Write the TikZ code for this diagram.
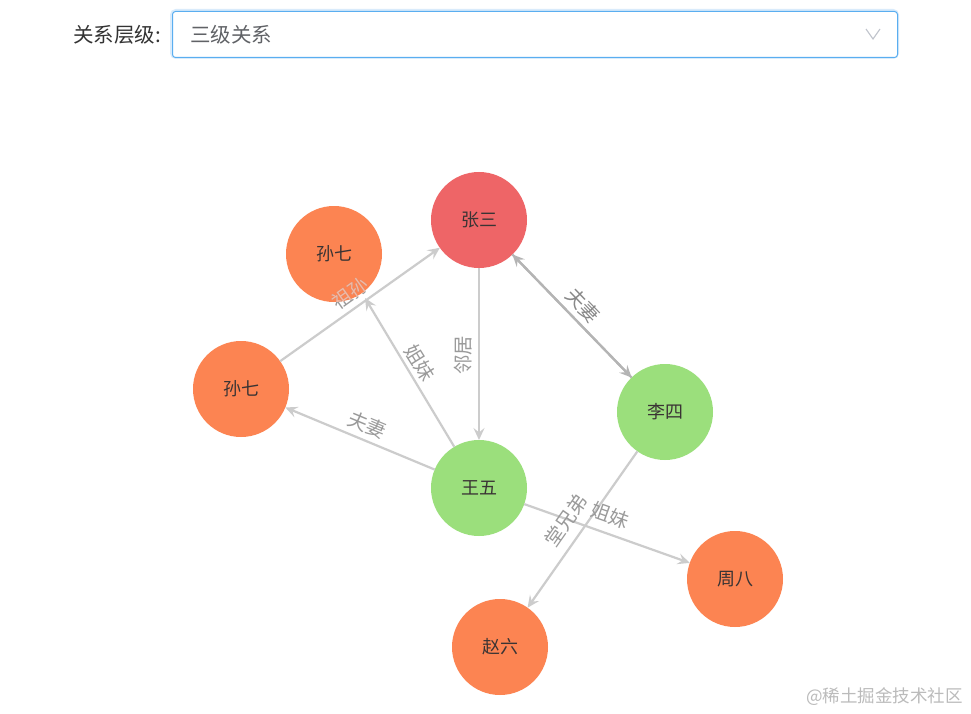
\documentclass[tikz,border=0pt]{standalone}
\usepackage{fontspec}
\setmainfont{Noto Sans CJK SC}
\usetikzlibrary{arrows.meta}
\definecolor{nred}{HTML}{EE6567}
\definecolor{norange}{HTML}{FC8452}
\definecolor{ngreen}{HTML}{9BDF7C}
\definecolor{edgec}{HTML}{CCCCCC}
\definecolor{edgedark}{HTML}{B4B4B4}
\definecolor{elabel}{HTML}{9A9A9A}
\definecolor{elabeldark}{HTML}{888888}
\definecolor{nlabel}{HTML}{3A3434}
\definecolor{boxblue}{HTML}{5AAEF0}
\definecolor{boxglow}{HTML}{D9EBFB}
\definecolor{ddtext}{HTML}{606266}
\definecolor{hdtext}{HTML}{333333}
\definecolor{chev}{HTML}{C0C4CC}
\definecolor{wm}{HTML}{BBBBBB}
\definecolor{zusun}{HTML}{F6B8A2}
\begin{document}
\begin{tikzpicture}[x=1pt,y=-1pt,
  person/.style={circle,minimum size=96pt,inner sep=0pt,outer sep=0pt,text=nlabel,font=\fontsize{18}{18}\selectfont},
  redp/.style={person,fill=nred},
  orp/.style={person,fill=norange},
  grp/.style={person,fill=ngreen},
  rel/.style={draw=edgec,line width=2.2pt,-{Stealth[length=12pt,width=11pt,inset=4.5pt]}},
  elab/.style={text=elabel,font=\fontsize{19.5}{19.5}\selectfont,inner sep=0pt},
  hdfont/.style={font=\fontsize{20.5}{21}\selectfont,inner sep=0pt}
]
\useasboundingbox (0,0) rectangle (971,714);
\fill[white] (0,0) rectangle (971,714);

% header
\node[hdfont,anchor=east,text=hdtext] (hdr) at (161,35) {关系层级:};
\draw[boxglow,line width=4pt,rounded corners=4pt] (172,11) rectangle (897,57);
\node[draw=boxblue,line width=1pt,rounded corners=3pt,minimum width=725pt,minimum height=46pt,anchor=north west,inner sep=0pt,fill=white] (sel) at (172,11) {};
\node[hdfont,anchor=west,text=ddtext] (val) at (190,35) {三级关系};
\coordinate (cva) at (866,29);
\coordinate (cvb) at (873,39);
\coordinate (cvc) at (880,29);
\draw[chev,line width=1.1pt] (cva) -- (cvb) -- (cvc);

% nodes
\node[redp] (zs) at (479,220) {张三};
\node[orp] (sq1) at (334,254) {孙七};
\node[orp] (sq2) at (241,389) {孙七};
\node[grp] (ls) at (665,412) {李四};
\node[grp] (ww) at (479,488) {王五};
\node[orp] (zb) at (735,579) {周八};
\node[orp] (zl) at (500,647) {赵六};
\coordinate (sqt) at (365,298);

% edges
\draw[rel] (sq2) -- (zs);
\draw[rel] (zs) -- (ww);
\draw[rel,draw=edgedark] (zs) -- (ls);
\draw[rel,draw=edgedark] (ls) -- (zs);
\draw[rel] (ww) -- (sq2);
\draw[rel] (ww) -- (sqt);
\draw[rel] (ls) -- (zl);
\draw[rel] (ww) -- (zb);

% edge labels
\node[elab,rotate=35.4] (lzs) at (350,293) {祖孙};
\begin{scope}
  \clip (sq1.center) circle[radius=48pt];
  \node[elab,rotate=35.4,text=zusun] (lzs2) at (350,293) {祖孙};
\end{scope}
\node[elab,rotate=90] (llj) at (463,355) {邻居};
\node[elab,rotate=-46,text=elabeldark] (lfq1) at (583,305) {夫妻};
\node[elab,rotate=-58] (ljm1) at (420,363) {姐妹};
\node[elab,rotate=-22.6] (lfq3) at (367,425) {夫妻};
\node[elab,rotate=55] (ltx) at (566,520) {堂兄弟};
\node[elab,rotate=-19.6] (ljm2) at (610,515) {姐妹};

% watermark
\node[anchor=east,text=wm,font=\fontsize{17.5}{17.5}\selectfont,inner sep=0pt] (wmk) at (963,697) {@稀土掘金技术社区};
\end{tikzpicture}
\end{document}
